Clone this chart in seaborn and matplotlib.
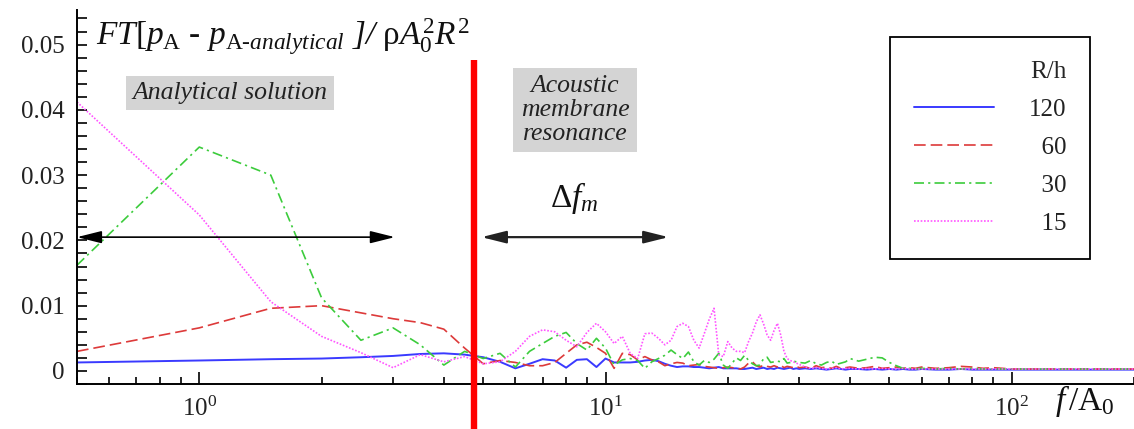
import numpy as np
import pandas as pd
import matplotlib
matplotlib.use("Agg")
import matplotlib.pyplot as plt
from matplotlib.ticker import FixedLocator, FixedFormatter, LogLocator, MultipleLocator, NullFormatter
import seaborn as sns

# ---------------- data ----------------
FREQ = [0.5, 1, 1.5, 2, 2.5, 3, 3.5, 4, 4.5, 5,
        5.5, 6, 6.5, 7, 7.5, 8, 8.5, 9, 9.5, 10,
        10.5, 11, 11.5, 12, 12.5, 13, 13.5, 14, 14.5, 15,
        15.5, 16, 16.5, 17, 17.5, 18, 18.5, 19, 19.5, 20,
        20.5, 21, 21.5, 22, 22.5, 23, 23.5, 24, 24.5, 25,
        25.5, 26, 26.5, 27, 27.5, 28, 28.5, 29, 29.5, 30,
        31, 32, 33, 34, 35, 36, 37, 38, 39, 40,
        42, 44, 46, 48, 50, 52, 54, 56, 58, 60,
        65, 70, 75, 80, 85, 90, 100, 110, 120, 140, 160, 180, 200]

RH_120 = [0.0013, 0.0016, 0.0018, 0.0019, 0.0021, 0.0023, 0.0026, 0.0027, 0.0025, 0.0021,
          0.0014, 0.0004, 0.0011, 0.0018, 0.0016, 0.0005, 0.0017, 0.0018, 0.0006, 0.0019,
          0.0013, 0.0013, 0.0013, 0.0014, 0.0016, 0.0017, 0.0015, 0.0011, 0.0008, 0.0006,
          0.0007, 0.0007, 0.0006, 0.0006, 0.0005, 0.0004, 0.0005, 0.0006, 0.0004, 0.0004,
          0.0004, 0.0004, 0.0003, 0.0003, 0.0004, 0.0005, 0.0003, 0.0004, 0.0005, 0.0003,
          0.0004, 0.0003, 0.0005, 0.0004, 0.0003, 0.0004, 0.0005, 0.0003, 0.0004, 0.0003,
          0.0004, 0.0003, 0.0004, 0.0003, 0.0002, 0.0003, 0.0004, 0.0003, 0.0002, 0.0003,
          0.0003, 0.0002, 0.0003, 0.0002, 0.0003, 0.0002, 0.0003, 0.0002, 0.0002, 0.0003,
          0.0002, 0.0002, 0.0003, 0.0002, 0.0002, 0.0002, 0.0002, 0.0002, 0.0002, 0.0002,
          0.0002, 0.0002, 0.0002]

RH_60 = [0.0030, 0.0066, 0.0096, 0.0100, 0.0089, 0.0080, 0.0074, 0.0064, 0.0035, 0.0011,
         0.0016, 0.0013, 0.0008, 0.0008, 0.0013, 0.0027, 0.0040, 0.0044, 0.0036, 0.0027,
         0.0004, 0.0027, 0.0025, 0.0017, 0.0022, 0.0017, 0.0014, 0.0008, 0.0011, 0.0013,
         0.0012, 0.0008, 0.0009, 0.0010, 0.0007, 0.0006, 0.0005, 0.0004, 0.0005, 0.0006,
         0.0005, 0.0004, 0.0003, 0.0006, 0.0012, 0.0014, 0.0008, 0.0006, 0.0009, 0.0007,
         0.0006, 0.0008, 0.0006, 0.0009, 0.0005, 0.0007, 0.0006, 0.0005, 0.0007, 0.0005,
         0.0006, 0.0004, 0.0008, 0.0005, 0.0006, 0.0004, 0.0007, 0.0004, 0.0005, 0.0006,
         0.0004, 0.0005, 0.0007, 0.0004, 0.0005, 0.0006, 0.0004, 0.0005, 0.0004, 0.0006,
         0.0004, 0.0005, 0.0007, 0.0006, 0.0004, 0.0005, 0.0003, 0.0003, 0.0003, 0.0003,
         0.0003, 0.0003, 0.0003]

RH_30 = [0.0162, 0.0343, 0.0300, 0.0112, 0.0047, 0.0066, 0.0040, 0.0009, 0.0030, 0.0019,
         0.0027, 0.0006, 0.0030, 0.0042, 0.0053, 0.0059, 0.0042, 0.0032, 0.0050, 0.0035,
         0.0009, 0.0017, 0.0019, 0.0016, 0.0004, 0.0014, 0.0019, 0.0024, 0.0032, 0.0025,
         0.0019, 0.0029, 0.0014, 0.0009, 0.0016, 0.0013, 0.0018, 0.0027, 0.0009, 0.0004,
         0.0012, 0.0020, 0.0016, 0.0024, 0.0016, 0.0011, 0.0008, 0.0009, 0.0019, 0.0021,
         0.0013, 0.0014, 0.0015, 0.0014, 0.0019, 0.0012, 0.0013, 0.0015, 0.0014, 0.0013,
         0.0012, 0.0016, 0.0011, 0.0009, 0.0013, 0.0015, 0.0010, 0.0012, 0.0014, 0.0019,
         0.0015, 0.0018, 0.0021, 0.0020, 0.0013, 0.0008, 0.0004, 0.0004, 0.0003, 0.0004,
         0.0003, 0.0004, 0.0003, 0.0004, 0.0003, 0.0003, 0.0003, 0.0003, 0.0003, 0.0003,
         0.0003, 0.0003, 0.0003]

RH_15 = [0.0412, 0.0239, 0.0106, 0.0053, 0.0028, 0.0005, 0.0025, 0.0014, 0.0022, 0.0011,
         0.0014, 0.0030, 0.0053, 0.0063, 0.0060, 0.0047, 0.0037, 0.0059, 0.0073, 0.0060,
         0.0042, 0.0053, 0.0027, 0.0019, 0.0057, 0.0058, 0.0050, 0.0040, 0.0047, 0.0068,
         0.0073, 0.0068, 0.0047, 0.0035, 0.0057, 0.0079, 0.0096, 0.0025, 0.0022, 0.0045,
         0.0035, 0.0030, 0.0030, 0.0028, 0.0045, 0.0058, 0.0075, 0.0086, 0.0072, 0.0055,
         0.0047, 0.0062, 0.0073, 0.0055, 0.0030, 0.0019, 0.0016, 0.0014, 0.0012, 0.0010,
         0.0006, 0.0004, 0.0005, 0.0004, 0.0003, 0.0004, 0.0005, 0.0003, 0.0004, 0.0004,
         0.0003, 0.0004, 0.0003, 0.0004, 0.0003, 0.0003, 0.0004, 0.0003, 0.0003, 0.0003,
         0.0003, 0.0003, 0.0003, 0.0003, 0.0003, 0.0003, 0.0003, 0.0003, 0.0003, 0.0003,
         0.0003, 0.0003, 0.0003]

SERIES_LABELS = ["120", "  60", "  30", "  15"]
Y_TICKS = [0, 0.01, 0.02, 0.03, 0.04, 0.05]
Y_TICK_LABELS = ["0", "0.01", "0.02", "0.03", "0.04", "0.05"]
RESONANCE_F = 4.75
ARROW_Y = 0.0205
ARROW1 = (0.5, 3.03)
ARROW2 = (4.95, 14.3)
DELTA_F_POS = (8.4, 0.0238)

# ---------------- style ----------------
sns.set_style("ticks")
plt.rcParams["font.family"] = ["Liberation Serif", "DejaVu Serif"]
plt.rcParams["mathtext.fontset"] = "custom"
plt.rcParams["mathtext.rm"] = "Liberation Serif"
plt.rcParams["mathtext.it"] = "Liberation Serif:italic"
plt.rcParams["mathtext.bf"] = "Liberation Serif:bold"

W, H = 1134, 429
fig = plt.figure(figsize=(W / 100, H / 100), dpi=100)
ax = fig.add_axes([77 / W, 45 / H, (W - 77) / W, 374 / H])

styles = [
    dict(color="#3a3aff", lw=1.4, ls="-"),
    dict(color="#dd3a3a", lw=1.2, ls=(0, (7, 3))),
    dict(color="#3ccc3c", lw=1.2, ls=(0, (6, 2.5, 1.3, 2.5))),
    dict(color="#ff55ff", lw=1.2, ls=(0, (1, 1))),
]
for vals, lab, st in zip([RH_120, RH_60, RH_30, RH_15], SERIES_LABELS, styles):
    sns.lineplot(x=FREQ, y=vals, ax=ax, color=st["color"], linewidth=st["lw"],
                 linestyle=st["ls"], label=lab, estimator=None, sort=False)

ax.set_xscale("log")
ax.set_xlim(0.5, 200)
ax.set_ylim(-0.002, 0.0553)

ax.yaxis.set_major_locator(FixedLocator(Y_TICKS))
ax.yaxis.set_major_formatter(FixedFormatter(Y_TICK_LABELS))
ax.yaxis.set_minor_locator(MultipleLocator(0.002))
ax.xaxis.set_major_locator(LogLocator(base=10))
ax.xaxis.set_minor_locator(LogLocator(base=10, subs=[2, 3, 4, 5, 6, 7, 8, 9]))
ax.xaxis.set_minor_formatter(NullFormatter())

for s in ["top", "right"]:
    ax.spines[s].set_visible(False)
for s in ["left", "bottom"]:
    ax.spines[s].set_linewidth(1.4)
    ax.spines[s].set_color("black")

ax.tick_params(axis="both", which="both", direction="in", width=1.2, color="black",
               labelsize=18, labelcolor="#222222")
ax.tick_params(axis="x", which="major", length=9, pad=9)
ax.tick_params(axis="x", which="minor", length=5)
ax.tick_params(axis="y", which="major", length=7, pad=9)
ax.tick_params(axis="y", which="minor", length=7)
ax.set_xlabel("")
ax.set_ylabel("")

# resonance line
ax.plot([RESONANCE_F, RESONANCE_F], [0.866, -0.13], transform=ax.get_xaxis_transform(),
        color="#ff0000", lw=4.6, clip_on=False, solid_capstyle="butt", zorder=5)

# arrows
ax.annotate("", xy=(ARROW1[0], ARROW_Y), xytext=(ARROW1[1], ARROW_Y),
            arrowprops=dict(arrowstyle="<|-|>,head_length=1.0,head_width=0.25",
                            color="black", lw=1.2, mutation_scale=15,
                            shrinkA=0, shrinkB=0), annotation_clip=False)
ax.annotate("", xy=(ARROW2[0], ARROW_Y), xytext=(ARROW2[1], ARROW_Y),
            arrowprops=dict(arrowstyle="<|-|>,head_length=1.0,head_width=0.25",
                            color="#222222", lw=1.6, mutation_scale=15,
                            shrinkA=0, shrinkB=0))
ax.text(DELTA_F_POS[0], DELTA_F_POS[1], r"$\Delta f_m$", fontsize=24,
        ha="center", va="bottom", color="#111111")

# legend
leg = ax.legend(title="R/h", loc="upper left", bbox_to_anchor=(890 / W, 1 - 37 / H),
                bbox_transform=fig.transFigure, frameon=True, fancybox=False,
                edgecolor="black", framealpha=1, fontsize=18, title_fontsize=18,
                alignment="right", handlelength=3.2, handletextpad=1.4,
                labelspacing=0.62, borderpad=0.95, borderaxespad=0)
leg.get_frame().set_linewidth(1.3)
for t in leg.get_texts():
    t.set_color("#222222")

# annotations boxes
fig.text(230 / W, 1 - 93 / H, "Analytical solution", fontsize=18.5, style="italic",
         ha="center", va="center", color="#222222",
         bbox=dict(facecolor="#d4d4d4", edgecolor="none", pad=4.5))
fig.text(575 / W, 1 - 110 / H, "Acoustic\nmembrane\nresonance", fontsize=18.5,
         style="italic", ha="center", va="center", linespacing=1.1, color="#222222",
         bbox=dict(facecolor="#d4d4d4", edgecolor="none", pad=5.5))

# title
fig.text(96 / W, 1 - 37 / H,
         r"$FT[p_\mathrm{A}$ - $p_{\mathrm{A}\text{-}analytical}$ ]/ $\mathrm{\rho}A_0^2R^2$",
         fontsize=24, style="italic", ha="left", va="center", color="#111111")

# x label
fig.text(1085 / W, 1 - 401 / H, r"$f\,/\mathrm{A}_\mathrm{0}$", fontsize=24,
         ha="center", va="center", color="#111111")

fig.savefig("out.png", dpi=100)
